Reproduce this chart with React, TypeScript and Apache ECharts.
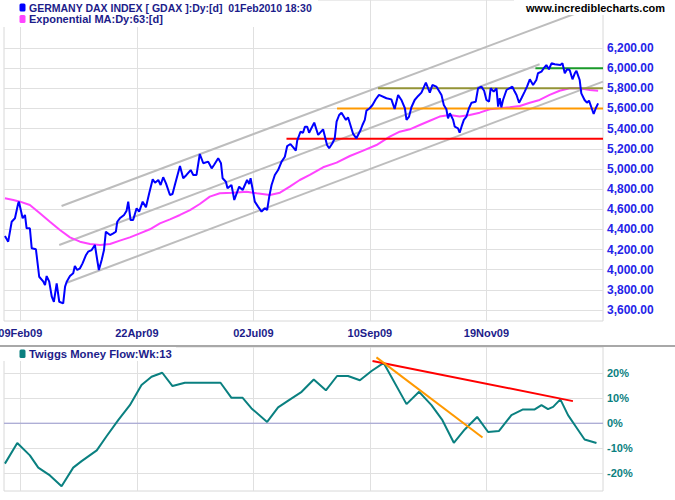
import React, { useEffect, useRef } from "react";
import * as echarts from "echarts";

// ---- axis ticks / labels ----
const xTickIdx = [7, 57, 107, 157, 207];
const xTickLabels = ["09Feb09", "22Apr09", "02Jul09", "10Sep09", "19Nov09"];
const priceTicks = [3600, 3800, 4000, 4200, 4400, 4600, 4800, 5000, 5200, 5400, 5600, 5800, 6000, 6200];
const tmfTicks = [-20, -10, 0, 10, 20];

// ---- DAX daily close (trading-day index, value) ----
const daxPoints: [number, number][] = [
  [0.4, 4334], [1.8, 4278], [3.3, 4476], [4.7, 4510], [6.1, 4659], [6.4, 4675], [8.0, 4510], [9.0, 4543],
  [9.7, 4411], [11.1, 4411], [11.9, 4212], [13.7, 4202], [15.1, 3930], [16.9, 3881], [17.6, 3848], [18.3, 3937],
  [19.4, 3881], [20.5, 3732], [21.4, 3682], [22.6, 3865], [23.7, 3682], [25.4, 3666], [26.2, 3832], [26.9, 3881],
  [28.3, 3937], [29.7, 3964], [30.4, 4037], [31.4, 3997], [32.6, 4014], [33.7, 4063], [35.2, 4146], [36.1, 4179],
  [37.6, 4195], [39.0, 4245], [40.0, 4096], [40.7, 3997], [41.9, 4096], [42.9, 4195], [43.7, 4377], [45.5, 4344],
  [46.9, 4361], [48.0, 4377], [48.6, 4476], [49.7, 4510], [51.5, 4543], [52.6, 4586], [53.3, 4675], [54.3, 4493],
  [55.4, 4493], [56.9, 4609], [58.0, 4576], [59.5, 4675], [60.9, 4619], [62.3, 4758], [63.8, 4897], [64.8, 4863],
  [66.2, 4890], [67.2, 4840], [68.3, 4917], [69.5, 4857], [71.2, 4741], [72.3, 4751], [73.3, 4840], [75.5, 5029],
  [76.9, 4907], [78.3, 4940], [80.1, 4989], [81.2, 4940], [82.6, 4940], [84.0, 5148], [85.5, 5056], [87.6, 5072],
  [89.1, 5006], [90.1, 5039], [91.9, 5105], [93.1, 5056], [93.8, 4907], [95.2, 4873], [95.9, 4808], [97.6, 4840],
  [98.8, 4692], [100.9, 4824], [102.4, 4791], [104.3, 4890], [105.2, 4850], [105.8, 4907], [106.6, 4808], [107.6, 4675],
  [109.0, 4626], [110.5, 4576], [111.9, 4609], [112.9, 4592], [113.8, 4725], [114.8, 4840], [116.2, 4940], [117.6, 4989],
  [119.1, 5072], [120.5, 5121], [121.5, 5227], [122.9, 5247], [124.1, 5214], [125.2, 5181], [125.8, 5280], [127.2, 5369],
  [128.3, 5359], [129.1, 5419], [130.1, 5419], [130.9, 5359], [133.1, 5459], [134.8, 5337], [136.9, 5393], [138.6, 5237],
  [139.5, 5205], [140.9, 5254], [141.9, 5304], [142.7, 5469], [143.8, 5535], [144.8, 5558], [146.7, 5486], [147.6, 5512],
  [149.8, 5347], [151.2, 5304], [153.0, 5386], [153.8, 5436], [154.8, 5486], [155.5, 5578], [156.9, 5602], [158.1, 5634],
  [159.5, 5691], [160.9, 5734], [164.1, 5701], [166.2, 5690], [167.6, 5595], [169.1, 5734], [170.5, 5684], [172.0, 5602],
  [172.7, 5486], [173.8, 5519], [174.8, 5612], [176.2, 5684], [177.7, 5724], [179.1, 5757], [181.0, 5856], [182.7, 5757],
  [183.8, 5833], [185.5, 5817], [187.7, 5734], [188.7, 5634], [189.8, 5592], [190.5, 5502], [191.3, 5552], [192.7, 5486],
  [193.4, 5419], [194.8, 5403], [195.5, 5359], [196.3, 5419], [197.3, 5486], [198.4, 5519], [199.5, 5602], [200.6, 5657],
  [202.4, 5667], [203.4, 5800], [204.8, 5817], [206.0, 5776], [207.0, 5684], [208.1, 5667], [208.8, 5800], [210.1, 5767],
  [211.3, 5800], [212.0, 5618], [212.7, 5701], [213.4, 5612], [214.1, 5684], [215.6, 5783], [218.1, 5817], [219.1, 5767],
  [219.9, 5734], [221.0, 5657], [222.0, 5701], [223.4, 5767], [224.4, 5817], [225.6, 5889], [227.0, 5833], [228.4, 5882],
  [229.1, 5949], [230.6, 5965], [231.6, 5999], [232.7, 6031], [233.8, 5989], [234.9, 6048], [236.3, 6038], [238.7, 6031],
  [239.6, 6048], [240.6, 5949], [241.6, 5989], [242.7, 5982], [243.9, 5889], [244.9, 5949], [245.6, 5973], [247.0, 5882],
  [247.7, 5750], [249.1, 5684], [250.1, 5657], [251.0, 5677], [252.0, 5612], [253.0, 5545], [253.9, 5602], [254.9, 5651],
];

// ---- Exponential MA 63 ----
const emaPoints: [number, number][] = [
  [0.4, 4708], [4.0, 4692], [6.9, 4675], [11.1, 4642], [15.4, 4560], [19.7, 4476], [24.0, 4394], [28.3, 4321],
  [32.6, 4278], [36.9, 4255], [41.2, 4245], [45.5, 4255], [49.7, 4288], [54.0, 4321], [58.3, 4361], [62.6, 4401],
  [66.9, 4460], [71.2, 4500], [75.5, 4543], [79.8, 4592], [84.0, 4652], [88.3, 4725], [92.6, 4758], [98.3, 4764],
  [104.1, 4774], [108.4, 4758], [114.1, 4741], [118.4, 4764], [122.6, 4824], [126.9, 4890], [131.2, 4940], [136.9, 5016],
  [142.7, 5062], [148.4, 5128], [154.1, 5181], [159.8, 5237], [165.5, 5320], [169.8, 5369], [174.1, 5393], [178.4, 5436],
  [182.7, 5478], [186.9, 5519], [191.3, 5535], [195.5, 5519], [199.8, 5535], [204.1, 5558], [208.4, 5592], [212.7, 5602],
  [217.0, 5612], [221.3, 5624], [225.6, 5657], [229.8, 5684], [234.1, 5734], [238.4, 5776], [242.7, 5800], [247.0, 5800],
  [251.3, 5783], [254.9, 5776],
];

// ---- trend channel lines ----
const channelUpper: [number, number][] = [[24.7, 4632], [257, 6644]];
const channelMiddle: [number, number][] = [[23.7, 4245], [229.8, 6038]];
const channelLower: [number, number][] = [[26.9, 3871], [257, 5866]];

// ---- horizontal support / resistance levels ----
const levelValues = [5300, 5600, 5800, 6000];
const levelStarts = [121.2, 142.9, 160.5, 228];
const levelEnd = 257;

// ---- Twiggs Money Flow (weekly, %) ----
const tmfPoints: [number, number][] = [
  [0.4, -16.1], [5.7, -7.9], [11.1, -12.8], [14.7, -17.7], [19.7, -20.8], [24.7, -25.1], [29.7, -17.7], [33.3, -15.1],
  [39.8, -10.8], [44.0, -5.2], [49.0, 1.2], [54.0, 7.2], [59.0, 15.2], [63.3, 18.5], [67.9, 20.1], [72.3, 14.8],
  [77.6, 16.1], [92.9, 16.1], [97.6, 10.1], [102.4, 10.1], [106.2, 5.9], [112.9, 0.5], [117.6, 6.3], [122.6, 9.4],
  [127.7, 12.5], [132.9, 17.4], [138.1, 13.1], [142.9, 18.8], [147.6, 18.8], [152.7, 17.1], [157.7, 20.8], [162.9, 24.0],
  [172.7, 7.6], [178.1, 12.5], [183.4, 7.2], [188.1, 1.2], [193.0, -7.8], [197.7, -2.5], [203.0, 2.5], [207.7, -3.5],
  [212.4, -3.1], [217.7, 3.2], [222.7, 5.5], [227.7, 5.5], [230.6, 7.2], [233.4, 5.6], [235.6, 6.5], [238.7, 9.5],
  [242.0, 3.2], [245.6, -1.7], [249.1, -6.5], [254.2, -7.9],
];
const tmfTrendRed: [number, number][] = [[158.1, 24.8], [244.1, 8.8]];
const tmfTrendOrange: [number, number][] = [[159.8, 26.2], [205.3, -5.7]];
const tmfZero: [number, number][] = [[0, 0], [257, 0]];

const X_MIN = 0;
const X_MAX = 257;

const GRID_BLUE = "#2424e8";
const NAVY = "#1c1c8a";
const TEAL = "#0a8080";
const LABEL_FONT = "Arial, 'Liberation Sans', sans-serif";

function lineSeries(data: [number, number][], color: string, width: number, grid: number, z = 2) {
  return {
    type: "line",
    xAxisIndex: grid,
    yAxisIndex: grid,
    data,
    symbol: "none",
    showSymbol: false,
    silent: true,
    z,
    lineStyle: { color, width },
    itemStyle: { color },
  };
}

export default function App() {
  const ref = useRef<HTMLDivElement>(null);
  useEffect(() => {
    document.body.style.margin = "0";
    if (!ref.current) return;
    const chart = echarts.init(ref.current, null, { renderer: "svg" });
    const levelColors = ["#ff0000", "#ff9900", "#939336", "#1a9a2a"];

    const series: any[] = [
      lineSeries(channelUpper, "#bdbdbd", 2, 0, 2),
      lineSeries(channelMiddle, "#bdbdbd", 2, 0, 2),
      lineSeries(channelLower, "#bdbdbd", 2, 0, 2),
      lineSeries(emaPoints, "#ff44ff", 2, 0, 3),
      ...levelValues.map((v, i) =>
        lineSeries([[levelStarts[i], v], [levelEnd, v]], levelColors[i], 2, 0, 3)
      ),
      lineSeries(daxPoints, "#0000ff", 2, 0, 4),
      lineSeries(tmfZero, "#9a9ad0", 1, 1, 2),
      lineSeries(tmfPoints, TEAL, 2, 1, 3),
      lineSeries(tmfTrendRed, "#ff0000", 2, 1, 4),
      lineSeries(tmfTrendOrange, "#ff9900", 2, 1, 4),
    ];

    const xAxisBase = (grid: number, showLabels: boolean) => ({
      type: "value",
      gridIndex: grid,
      min: X_MIN,
      max: X_MAX,
      axisLine: { show: false },
      axisTick: { show: false, customValues: xTickIdx },
      splitLine: { show: true, lineStyle: { color: "#e0e0e0", width: 1 } },
      axisLabel: {
        show: showLabels,
        customValues: xTickIdx,
        margin: 6,
        color: NAVY,
        fontFamily: LABEL_FONT,
        fontWeight: "bold",
        fontSize: 11,
        hideOverlap: false,
        formatter: (v: number) => {
          const i = xTickIdx.indexOf(Math.round(v));
          return i >= 0 ? xTickLabels[i] : "";
        },
      },
    });

    const gridBase = {
      left: 4,
      right: 72,
      show: true,
      borderColor: "#d8d8d8",
      borderWidth: 1,
      backgroundColor: "transparent",
      containLabel: false,
      outerBoundsMode: "none",
    };

    chart.setOption({
      animation: false,
      backgroundColor: "#ffffff",
      grid: [
        { ...gridBase, top: 0, height: 321 },
        { ...gridBase, top: 347, height: 144 },
      ],
      xAxis: [xAxisBase(0, true), xAxisBase(1, false)],
      yAxis: [
        {
          type: "value",
          gridIndex: 0,
          position: "right",
          min: 3491,
          max: 6676,
          axisLine: { show: false },
          axisTick: { show: false, customValues: priceTicks },
          splitLine: { show: true, lineStyle: { color: "#e0e0e0", width: 1 } },
          axisLabel: {
            customValues: priceTicks,
            margin: 4,
            color: GRID_BLUE,
            fontFamily: LABEL_FONT,
            fontWeight: "bold",
            fontSize: 12,
            formatter: (v: number) =>
              v.toLocaleString("en-US", { minimumFractionDigits: 2, maximumFractionDigits: 2 }),
          },
        },
        {
          type: "value",
          gridIndex: 1,
          position: "right",
          min: -27,
          max: 30.35,
          axisLine: { show: false },
          axisTick: { show: false, customValues: tmfTicks },
          splitLine: { show: true, lineStyle: { color: "#e0e0e0", width: 1 } },
          axisLabel: {
            customValues: tmfTicks,
            margin: 4,
            color: TEAL,
            fontFamily: LABEL_FONT,
            fontWeight: "bold",
            fontSize: 11,
            formatter: (v: number) => `${v}%`,
          },
        },
      ],
      series,
      graphic: [
        // separator between panels
        { type: "line", shape: { x1: 0, y1: 346, x2: 675, y2: 346 }, style: { stroke: "#a8a8a8", lineWidth: 2 }, z: 10 },
        // top legend
        { type: "rect", shape: { x: 0, y: 0, width: 318, height: 27 }, style: { fill: "#ffffff" }, z: 10 },
        { type: "rect", shape: { x: 19.5, y: 3.5, width: 6, height: 8, r: 1.5 }, style: { fill: "#0000ff" }, z: 11 },
        {
          type: "text", x: 29, y: 7.5, z: 11,
          style: { text: "GERMANY DAX INDEX [ GDAX ]:Dy:[d]  01Feb2010 18:30", fill: NAVY, font: `bold 10.5px ${LABEL_FONT}`, verticalAlign: "middle" },
        },
        { type: "rect", shape: { x: 19.5, y: 15, width: 6, height: 8, r: 1.5 }, style: { fill: "#ff44ff" }, z: 11 },
        {
          type: "text", x: 29, y: 19, z: 11,
          style: { text: "Exponential MA:Dy:63:[d]", fill: NAVY, font: `bold 11px ${LABEL_FONT}`, verticalAlign: "middle" },
        },
        // watermark
        { type: "rect", shape: { x: 514, y: 0, width: 161, height: 15 }, style: { fill: "#ffffff" }, z: 10 },
        {
          type: "text", x: 665, y: 7.5, z: 11,
          style: { text: "www.incrediblecharts.com", fill: "#000000", font: `bold 11px ${LABEL_FONT}`, align: "right", verticalAlign: "middle" },
        },
        // lower legend
        { type: "rect", shape: { x: 0, y: 347, width: 176, height: 14 }, style: { fill: "#ffffff" }, z: 10 },
        { type: "rect", shape: { x: 19.5, y: 349.5, width: 6, height: 8.5, r: 1.5 }, style: { fill: TEAL }, z: 11 },
        {
          type: "text", x: 29, y: 354, z: 11,
          style: { text: "Twiggs Money Flow:Wk:13", fill: NAVY, font: `bold 11.3px ${LABEL_FONT}`, verticalAlign: "middle" },
        },
      ],
    });
    return () => chart.dispose();
  }, []);
  return <div ref={ref} style={{ width: 675, height: 500 }} />;
}
